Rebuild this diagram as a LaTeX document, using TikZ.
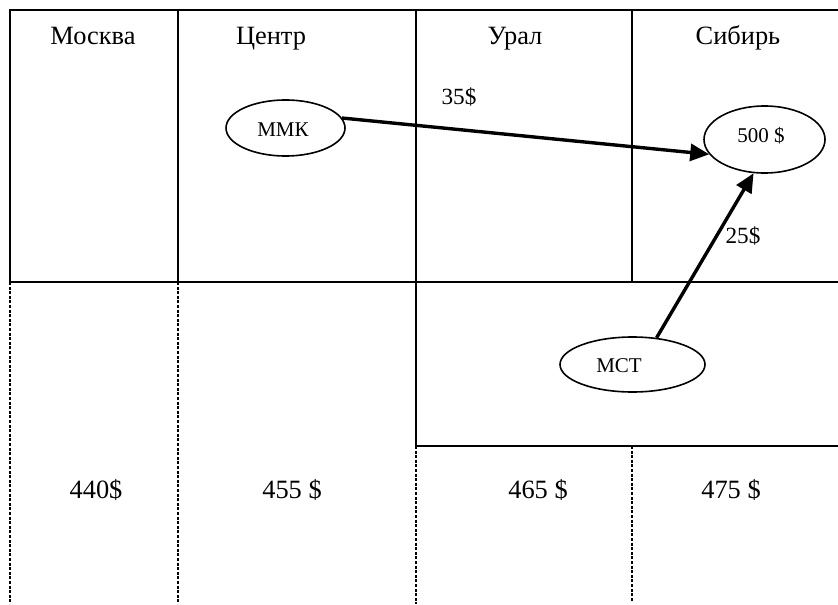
\documentclass[tikz,border=0pt]{standalone}
\usepackage{fontspec}
\setmainfont{Liberation Serif}
\usetikzlibrary{shapes.geometric,arrows.meta}
\begin{document}
\begin{tikzpicture}[x=0.5pt,y=-0.5pt,
  frame/.style={line width=1pt},
  dashline/.style={line width=0.6pt,dash pattern=on 1.5pt off 0.8pt},
  big/.style={anchor=base,font=\fontsize{13.2}{15}\selectfont},
  lbl/.style={anchor=base,font=\fontsize{11.6}{14}\selectfont},
  oval/.style={draw,ellipse,line width=0.8pt,inner sep=0pt},
  ovtext/.style={anchor=base,font=\fontsize{10.5}{12}\selectfont},
  flow/.style={line width=1.7pt,-{Triangle[length=9.5pt,width=8.5pt]}}]
\useasboundingbox (0,0) rectangle (838,604);
% top half frame
\draw[frame] (10,282) -- (10,10) -- (840,10);
\draw[frame] (10,282) -- (840,282);
\draw[frame] (178,10) -- (178,282);
\draw[frame] (416,10) -- (416,446) -- (840,446);
\draw[frame] (632,10) -- (632,282);
% dashed lower lines
\draw[dashline] (10,282) -- (10,604);
\draw[dashline] (178,282) -- (178,604);
\draw[dashline] (416,446) -- (416,604);
\draw[dashline] (632,446) -- (632,602);
% headings
\node[big] (h1) at (93,45) {Москва};
\node[big] (h2) at (271,45) {Центр};
\node[big] (h3) at (515,45) {Урал};
\node[big] (h4) at (738,45) {Сибирь};
% bottom prices
\node[big] (p1) at (96,498) {440\$};
\node[big] (p2) at (292,498) {455 \$};
\node[big] (p3) at (538,498) {465 \$};
\node[big] (p4) at (731,498) {475 \$};
% ovals
\node[oval,minimum width=59.5pt,minimum height=28pt] (mmk) at (285.5,128) {};
\node[oval,minimum width=60.5pt,minimum height=33.5pt] (s500) at (764.5,139.5) {};
\node[oval,minimum width=72.5pt,minimum height=27.5pt] (mst) at (632.5,364.5) {};
\node[ovtext] (t1) at (283,137) {ММК};
\node[ovtext] (t2) at (761,143) {500 \$};
\node[ovtext] (t3) at (619,372) {МСТ};
% arrows
\draw[flow] (mmk.10) -- (s500.195);
\draw[flow] (mst.48) -- (s500.252);
% labels
\node[lbl] (l35) at (459,105) {35\$};
\node[lbl] (l25) at (743,243) {25\$};
\end{tikzpicture}
\end{document}
